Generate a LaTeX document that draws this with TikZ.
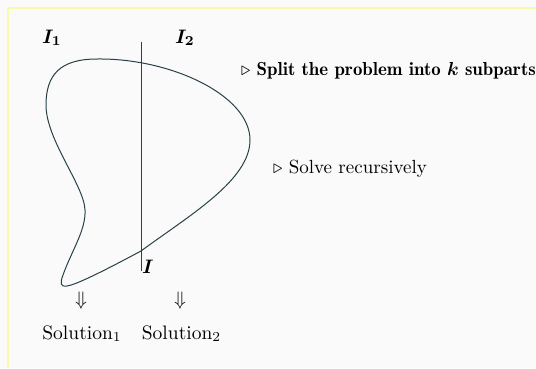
\documentclass[tikz,border=0pt]{standalone}
\usepackage{amsmath}
\usepackage{bm}
\definecolor{bgcol}{RGB}{250,250,250}
\definecolor{framecol}{RGB}{250,248,170}
\definecolor{curvecol}{RGB}{40,64,70}
\begin{document}
\begin{tikzpicture}[x=1pt,y=-1pt,
  txt/.style={inner sep=0pt,outer sep=0pt,font=\fontsize{10}{12}\selectfont,scale=1.95},
  shapeline/.style={draw=curvecol,line width=1pt}]
\path[fill=bgcol] (0,0) rectangle (536,368);
\useasboundingbox (0,0) rectangle (536,368);
\draw[framecol,line width=1.5pt] (8,368) -- (8,8) -- (536,8);
% closed region
\draw[shapeline] (97,59) .. controls (170,58) and (250,95) .. (250,140)
  .. controls (250,180) and (190,215) .. (141,251)
  .. controls (100,273) and (75,285) .. (67,286)
  .. controls (60,287) and (60,283) .. (63,275)
  .. controls (72,250) and (86,230) .. (85,210)
  .. controls (84,185) and (46,140) .. (46,105)
  .. controls (46,75) and (60,59) .. (97,59) -- cycle;
\coordinate (ltop) at (141,42);
\coordinate (lbot) at (141,271);
\draw[shapeline] (ltop) -- (lbot);
% labels
\node[txt,anchor=base west] (i1) at (42,43) {$\bm{I_1}$};
\node[txt,anchor=base west] (i2) at (175,43) {$\bm{I_2}$};
\node[txt,anchor=base west] (ii) at (142,273) {$\bm{I}$};
\node[txt,anchor=base west,scale=0.965] (split) at (241,75) {$\triangleright$ {\fontseries{b}\selectfont Split the problem into $\bm{k}$ subparts}};
\node[txt,anchor=base west,scale=0.975] (solve) at (273,173) {$\triangleright$ Solve recursively};
\node[txt] (a1) at (81,301) {$\Downarrow$};
\node[txt] (a2) at (180,301) {$\Downarrow$};
\node[txt,anchor=base] (s1) at (82,339) {Solution$_1$};
\node[txt,anchor=base] (s2) at (181.5,339) {Solution$_2$};
\end{tikzpicture}
\end{document}
